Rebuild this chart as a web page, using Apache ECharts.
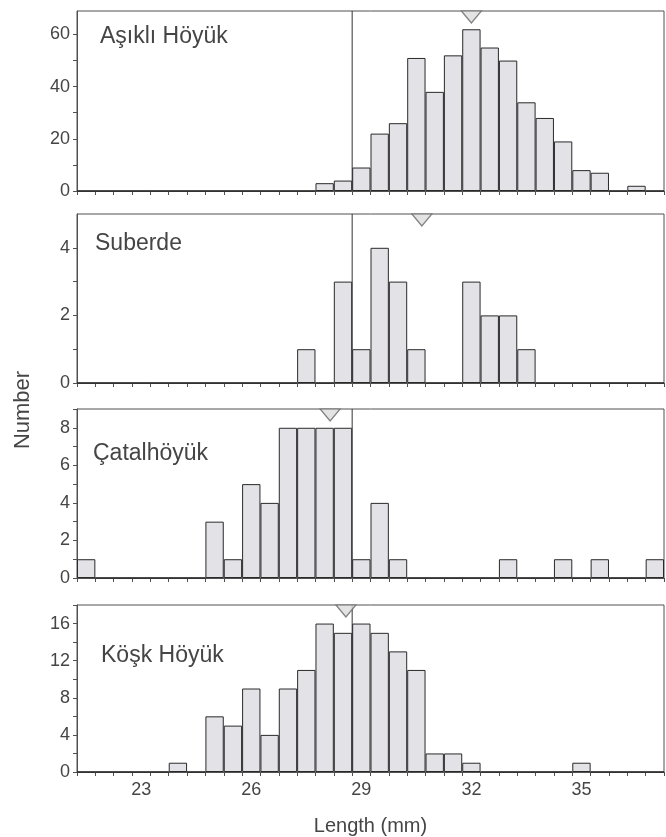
<!DOCTYPE html>
<html>
<head>
<meta charset="utf-8">
<script src="https://cdn.jsdelivr.net/npm/echarts@6/dist/echarts.min.js"></script>
<style>
html,body{margin:0;padding:0;background:#fff;}
#chart{width:666px;height:837px;}
</style>
</head>
<body>
<div id="chart"></div>
<script>
// Bin centres (mm), bins are 0.5 mm wide
var lengthBins = [21.5, 22, 22.5, 23, 23.5, 24, 24.5, 25, 25.5, 26, 26.5, 27, 27.5, 28, 28.5, 29,
                  29.5, 30, 30.5, 31, 31.5, 32, 32.5, 33, 33.5, 34, 34.5, 35, 35.5, 36, 36.5, 37];
var xTickLabels = ['23', '26', '29', '32', '35'];

var siteNames = ['Aşıklı Höyük', 'Suberde', 'Çatalhöyük', 'Köşk Höyük'];

var asikliCounts  = [0,0,0,0,0,0,0,0,0,0,0,0,0,3,4,9,22,26,51,38,52,62,55,50,34,28,19,8,7,0,2,0];
var suberdeCounts = [0,0,0,0,0,0,0,0,0,0,0,0,1,0,3,1,4,3,1,0,0,3,2,2,1,0,0,0,0,0,0,0];
var catalCounts   = [1,0,0,0,0,0,0,3,1,5,4,8,8,8,8,1,4,1,0,0,0,0,0,1,0,0,1,0,1,0,0,1];
var koskCounts    = [0,0,0,0,0,1,0,6,5,9,4,9,11,16,15,16,15,13,11,2,2,1,0,0,0,0,0,1,0,0,0,0];

var siteMeans = [32.0, 30.65, 28.15, 28.58];
var referenceLine = 28.75;

var yMaxes = [69, 5, 9, 18];
var yLabelValues = [[0, 20, 40, 60], [0, 2, 4], [0, 2, 4, 6, 8], [0, 4, 8, 12, 16]];
var yTickValues  = [[0, 10, 20, 30, 40, 50, 60], [0, 1, 2, 3, 4], [0, 1, 2, 3, 4, 5, 6, 7, 8, 9], [0, 2, 4, 6, 8, 10, 12, 14, 16, 18]];

var allCounts = [asikliCounts, suberdeCounts, catalCounts, koskCounts];

// layout
var panelTops = [11, 214, 409, 605];
var panelHeights = [180, 169, 169, 167];
var labelPos = [[100, 37], [95, 244], [93, 454], [101, 656]];

var FONT = 'Liberation Sans, Arial, sans-serif';
var TXT = '#454545';
var AX = '#505050';

var grids = [], xAxes = [], yAxes = [], series = [], graphics = [];
var cats = lengthBins.map(function (v) { return String(v); });

for (var i = 0; i < 4; i++) {
  grids.push({left: 77, right: 2, top: panelTops[i], height: panelHeights[i],
    show: true, borderColor: AX, borderWidth: 1, backgroundColor: 'transparent'});
  var isBottom = (i === 3);
  xAxes.push({
    type: 'category', gridIndex: i, data: cats, boundaryGap: true,
    axisLine: {show: true, lineStyle: {color: AX, width: 1}},
    axisTick: {show: true, interval: 0, alignWithLabel: false, inside: false, length: 4, lineStyle: {color: AX}},
    axisLabel: {show: isBottom, interval: function (idx, val) { return xTickLabels.indexOf(val) >= 0; },
      color: TXT, fontSize: 18, fontFamily: FONT, margin: 9},
    splitLine: {show: false},
    name: isBottom ? 'Length (mm)' : '', nameLocation: 'middle', nameGap: 44,
    nameTextStyle: {color: TXT, fontSize: 20, fontFamily: FONT}
  });
  xAxes.push({type: 'value', gridIndex: i, min: 21.25, max: 37.25, show: false});
  yAxes.push({
    type: 'value', gridIndex: i, min: 0, max: yMaxes[i],
    axisLine: {show: true, lineStyle: {color: AX, width: 1}},
    axisTick: {show: true, inside: false, length: 4, customValues: yTickValues[i], lineStyle: {color: AX}},
    axisLabel: {show: true, customValues: yLabelValues[i], color: TXT, fontSize: 18, fontFamily: FONT, margin: 7},
    splitLine: {show: false}
  });
  series.push({
    type: 'bar', xAxisIndex: 2 * i, yAxisIndex: i, data: allCounts[i],
    barCategoryGap: '0%', barGap: '0%', z: 3,
    itemStyle: {color: '#e2e2e7', borderColor: '#2a2a2a', borderWidth: 1},
    emphasis: {disabled: true}, animation: false
  });
  series.push({
    type: 'line', xAxisIndex: 2 * i + 1, yAxisIndex: i,
    data: [[referenceLine, 0], [referenceLine, yMaxes[i]]],
    symbol: 'none', lineStyle: {color: '#333', width: 1}, z: 1, animation: false, silent: true
  });
  series.push({
    type: 'scatter', xAxisIndex: 2 * i + 1, yAxisIndex: i,
    data: [[siteMeans[i], yMaxes[i]]],
    symbol: 'triangle', symbolRotate: 180, symbolSize: [20, 12], symbolOffset: [0, 6],
    itemStyle: {color: '#dcdcdc', borderColor: '#666', borderWidth: 1.2}, z: 5, clip: false,
    animation: false, silent: true
  });
  graphics.push({type: 'text', x: labelPos[i][0], y: labelPos[i][1],
    style: {text: siteNames[i], fill: TXT, font: '23px ' + FONT, textVerticalAlign: 'middle', verticalAlign: 'middle'}});
}
graphics.push({type: 'text', x: 23, y: 410, rotation: Math.PI / 2,
  style: {text: 'Number', fill: TXT, font: '22px ' + FONT, align: 'center', verticalAlign: 'middle',
    textAlign: 'center', textVerticalAlign: 'middle'}});

var chart = echarts.init(document.getElementById('chart'), null, {renderer: 'canvas'});
chart.setOption({
  animation: false,
  grid: grids, xAxis: xAxes, yAxis: yAxes, series: series, graphic: graphics
});
</script>
</body>
</html>
